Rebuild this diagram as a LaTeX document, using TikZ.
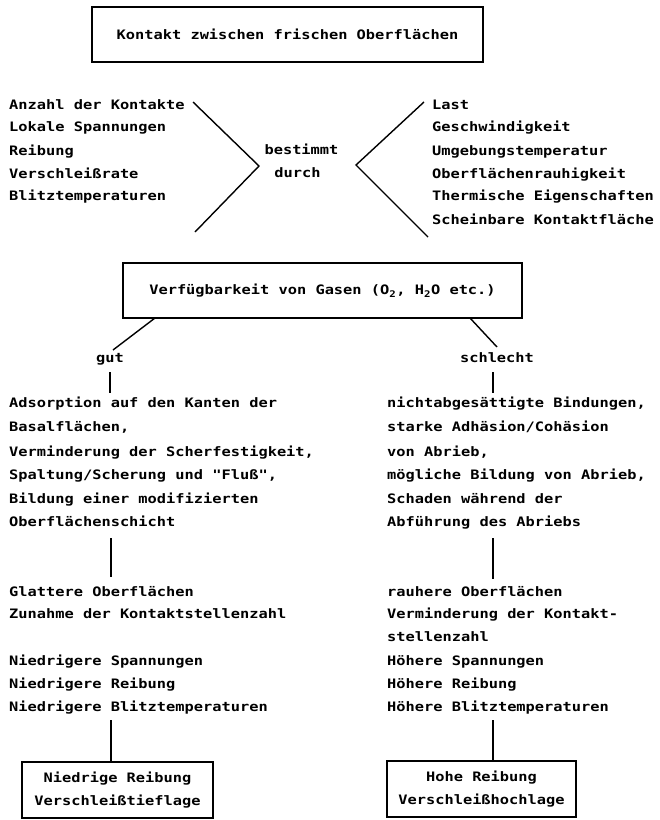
\documentclass[tikz,border=0pt]{standalone}
\usepackage{fontspec}
\newfontfamily\dmono{DejaVu Sans Mono}[FakeStretch=1.18]
\begin{document}
\begin{tikzpicture}[x=1pt,y=-1pt,
  txt/.style={font=\dmono\bfseries\fontsize{13}{23.3}\selectfont, inner sep=0pt, anchor=base west},
  ctxt/.style={txt, anchor=base},
  box/.style={draw, line width=1.5pt, inner sep=0pt, font=\dmono\bfseries\fontsize{13}{23.3}\selectfont, align=center},
  ln/.style={line width=1.4pt}]
\useasboundingbox (0,0) rectangle (660,820);
% top box
\node[box, minimum width=391pt, minimum height=55pt] (top) at (287.5,34.5) {Kontakt zwischen frischen Oberflächen};
% left list
\node[txt] (l1) at (9,109) {Anzahl der Kontakte};
\node[txt] (l2) at (9,131) {Lokale Spannungen};
\node[txt] (l3) at (9,155) {Reibung};
\node[txt] (l4) at (9,178) {Verschleißrate};
\node[txt] (l5) at (9,200) {Blitztemperaturen};
% right list
\node[txt] (r1) at (432,109) {Last};
\node[txt] (r2) at (432,131) {Geschwindigkeit};
\node[txt] (r3) at (432,155) {Umgebungstemperatur};
\node[txt] (r4) at (432,178) {Oberflächenrauhigkeit};
\node[txt] (r5) at (432,200) {Thermische Eigenschaften};
\node[txt] (r6) at (432,224) {Scheinbare Kontaktfläche};
% middle
\node[ctxt] (bes) at (301.5,154) {bestimmt};
\node[ctxt] (dur) at (297.5,177) {durch};
% chevrons
\coordinate (la) at (193,102);
\coordinate (lb) at (259,166);
\coordinate (lc) at (195,232);
\coordinate (ra) at (424,102);
\coordinate (rb) at (356,165);
\coordinate (rc) at (428,237);
\draw[ln] (la) -- (lb) -- (lc);
\draw[ln] (ra) -- (rb) -- (rc);
% gas box
\node[box, minimum width=399pt, minimum height=55pt] (gas) at (322.5,290.5) {Verfügbarkeit von Gasen (O\textsubscript{2}, H\textsubscript{2}O etc.)};
% branches
\node[ctxt] (gut) at (110,362) {gut};
\node[ctxt] (sch) at (497,362) {schlecht};
\coordinate (g1) at (155,318);
\coordinate (g2) at (113,350);
\coordinate (s1) at (470,318);
\coordinate (s2) at (497,347);
\draw[ln] (g1) -- (g2);
\draw[ln] (s1) -- (s2);
\coordinate (gv1) at (110,372);
\coordinate (gv2) at (110,393);
\coordinate (sv1) at (493,372);
\coordinate (sv2) at (493,393);
\draw[ln] (gv1) -- (gv2);
\draw[ln] (sv1) -- (sv2);
% left block 1
\node[txt] (a1) at (9,407) {Adsorption auf den Kanten der};
\node[txt] (a2) at (9,431) {Basalflächen,};
\node[txt] (a3) at (9,456) {Verminderung der Scherfestigkeit,};
\node[txt] (a4) at (9,479) {Spaltung/Scherung und "Fluß",};
\node[txt] (a5) at (9,503) {Bildung einer modifizierten};
\node[txt] (a6) at (9,526) {Oberflächenschicht};
% right block 1
\node[txt] (b1) at (387,407) {nichtabgesättigte Bindungen,};
\node[txt] (b2) at (387,431) {starke Adhäsion/Cohäsion};
\node[txt] (b3) at (387,456) {von Abrieb,};
\node[txt] (b4) at (387,479) {mögliche Bildung von Abrieb,};
\node[txt] (b5) at (387,503) {Schaden während der};
\node[txt] (b6) at (387,526) {Abführung des Abriebs};
\coordinate (gw1) at (111,538);
\coordinate (gw2) at (111,577);
\coordinate (sw1) at (493,538);
\coordinate (sw2) at (493,579);
\draw[ln] (gw1) -- (gw2);
\draw[ln] (sw1) -- (sw2);
% left block 2
\node[txt] (c1) at (9,596) {Glattere Oberflächen};
\node[txt] (c2) at (9,618) {Zunahme der Kontaktstellenzahl};
\node[txt] (c3) at (9,665) {Niedrigere Spannungen};
\node[txt] (c4) at (9,688) {Niedrigere Reibung};
\node[txt] (c5) at (9,711) {Niedrigere Blitztemperaturen};
% right block 2
\node[txt] (d1) at (387,596) {rauhere Oberflächen};
\node[txt] (d2) at (387,618) {Verminderung der Kontakt-};
\node[txt] (d3) at (387,641) {stellenzahl};
\node[txt] (d4) at (387,665) {Höhere Spannungen};
\node[txt] (d5) at (387,688) {Höhere Reibung};
\node[txt] (d6) at (387,711) {Höhere Blitztemperaturen};
% bottom boxes
\node[box, minimum width=191pt, minimum height=56pt] (lo) at (117.5,790) {Niedrige Reibung\\Verschleißtieflage};
\node[box, minimum width=189pt, minimum height=56pt] (hi) at (481.5,789) {Hohe Reibung\\Verschleißhochlage};
\coordinate (gx) at (111,720);
\coordinate (sx) at (493,720);
\draw[ln] (gx) -- (gx |- lo.north);
\draw[ln] (sx) -- (sx |- hi.north);
\end{tikzpicture}
\end{document}
